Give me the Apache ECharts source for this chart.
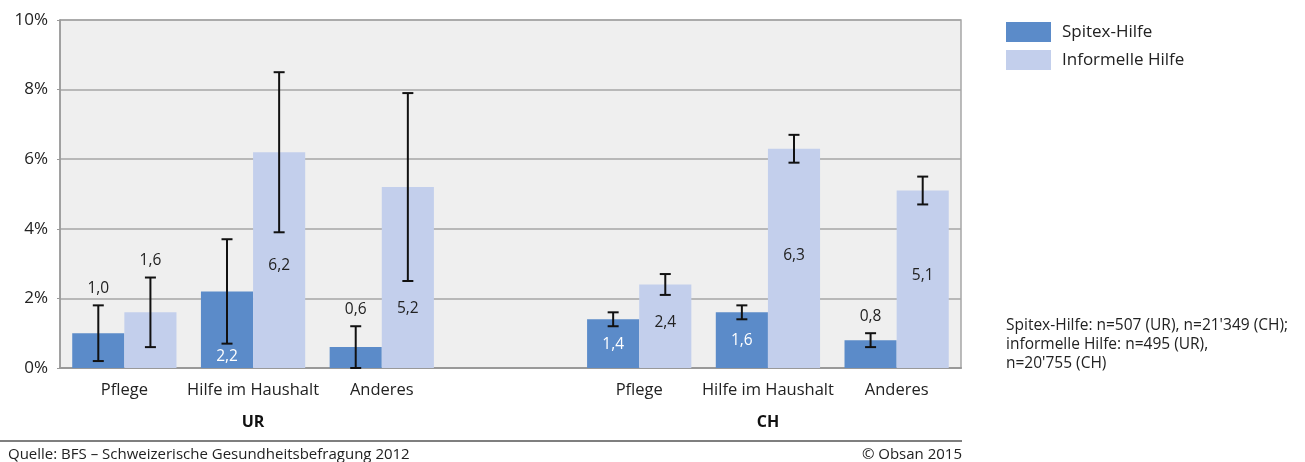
<!DOCTYPE html>
<html>
<head>
<meta charset="utf-8">
<script src="https://cdn.jsdelivr.net/npm/echarts@6/dist/echarts.min.js"></script>
<style>
html,body{margin:0;padding:0;background:#fff;}
#chart{width:1305px;height:462px;}
</style>
</head>
<body>
<div id="chart"></div>
<script>
// ---- data ----
const categories = ['Pflege', 'Hilfe im Haushalt', 'Anderes', '', 'Pflege', 'Hilfe im Haushalt', 'Anderes'];
const groupLabels = ['', 'UR', '', '', '', 'CH', ''];
const seriesNames = ['Spitex-Hilfe', 'Informelle Hilfe'];
const spitex = [1.0, 2.2, 0.6, null, 1.4, 1.6, 0.8];
const spitexLow = [0.2, 0.7, 0.0, null, 1.2, 1.4, 0.6];
const spitexHigh = [1.8, 3.7, 1.2, null, 1.6, 1.8, 1.0];
const informelle = [1.6, 6.2, 5.2, null, 2.4, 6.3, 5.1];
const informelleLow = [0.6, 3.9, 2.5, null, 2.1, 5.9, 4.7];
const informelleHigh = [2.6, 8.5, 7.9, null, 2.7, 6.7, 5.5];
const yTicks = [0, 2, 4, 6, 8, 10];
const noteLines = ["Spitex-Hilfe: n=507 (UR), n=21'349 (CH);", "informelle Hilfe: n=495 (UR),", "n=20'755 (CH)"];
const sourceText = 'Quelle: BFS – Schweizerische Gesundheitsbefragung 2012';
const copyrightText = '© Obsan 2015';

// ---- style ----
const FONT = 'Open Sans';
const C_SPITEX = '#5b8bc9';
const C_INF = '#c3cfec';
const CAT_GAP = 0.19;
const fmt = v => v.toFixed(1).replace('.', ',');

// label placement per bar: 'above' (above error bar), or inside with offset
const spitexLabel = [{above: true}, {white: true, dy: 27}, {above: true}, null, {white: true, dy: 1}, {white: true, dy: 0}, {above: true}];
const infLabel = [{above: true}, {dy: 5}, {dy: 31}, null, {dy: -4}, {dy: -3}, {dy: -4}];

function barData(vals, cfg) {
  return vals.map((v, i) => {
    if (v == null) return null;
    const c = cfg[i];
    if (c.above) return {value: v, label: {show: false}};
    return {
      value: v,
      label: {
        show: true, position: 'inside', offset: [0, c.dy || 0],
        color: c.white ? '#ffffff' : '#222222',
        fontFamily: FONT, fontSize: 15.5,
        formatter: fmt(v)
      }
    };
  });
}

function errData(lo, hi, vals, cfg, s) {
  const out = [];
  lo.forEach((l, i) => {
    if (l == null) return;
    out.push([i, l, hi[i], s, cfg[i].above ? 1 : 0, vals[i]]);
  });
  return out;
}

function renderErr(params, api) {
  const idx = api.value(0);
  const lo = api.value(1), hi = api.value(2), s = api.value(3);
  const above = api.value(4), v = api.value(5);
  const cw = api.size([1, 0])[0];
  const bw = cw * (1 - CAT_GAP) / 2;
  const dx = s === 0 ? -bw / 2 : bw / 2;
  const pLo = api.coord([idx, lo]);
  const pHi = api.coord([idx, hi]);
  const x = pLo[0] + dx;
  const cap = 5.5;
  const st = {stroke: '#111', lineWidth: 2};
  const children = [
    {type: 'line', shape: {x1: x, y1: pLo[1], x2: x, y2: pHi[1]}, style: st},
    {type: 'line', shape: {x1: x - cap, y1: pLo[1], x2: x + cap, y2: pLo[1]}, style: st},
    {type: 'line', shape: {x1: x - cap, y1: pHi[1], x2: x + cap, y2: pHi[1]}, style: st}
  ];
  if (above) {
    children.push({type: 'text', x: x, y: pHi[1] - 17,
      style: {text: fmt(v), fill: '#222', font: '15.5px ' + FONT, align: 'center', verticalAlign: 'middle'}});
  }
  return {type: 'group', children};
}

const chart = echarts.init(document.getElementById('chart'), null, {renderer: 'canvas'});
chart.setOption({
  animation: false,
  backgroundColor: '#ffffff',
  textStyle: {fontFamily: FONT},
  grid: {left: 60, right: 344, top: 20, bottom: 94, show: true, backgroundColor: '#efefef', borderColor: '#a6a6a6', borderWidth: 1.5},
  legend: {
    data: seriesNames, orient: 'vertical', left: 1006, top: 22, padding: 0,
    itemWidth: 45, itemHeight: 20, itemGap: 8, icon: 'rect',
    textStyle: {fontFamily: FONT, fontSize: 17, color: '#222', padding: [0, 0, 0, 6]}
  },
  xAxis: [{
    type: 'category', data: categories, gridIndex: 0,
    axisLine: {show: true, lineStyle: {color: '#999', width: 2}},
    axisTick: {show: false},
    axisLabel: {fontFamily: FONT, fontSize: 16.5, color: '#222', margin: 14, interval: 0}
  }, {
    type: 'category', data: groupLabels, gridIndex: 0, position: 'bottom', offset: 33,
    axisLine: {show: false}, axisTick: {show: false},
    axisLabel: {fontFamily: FONT, fontSize: 16, fontWeight: 'bold', color: '#111', margin: 13, interval: 0}
  }],
  yAxis: {
    type: 'value', min: yTicks[0], max: yTicks[yTicks.length - 1], interval: 2,
    axisLine: {show: true, lineStyle: {color: '#999', width: 1.5}},
    axisTick: {show: true, length: 3, lineStyle: {color: '#999'}},
    splitLine: {lineStyle: {color: '#a6a6a6', width: 1.5}},
    axisLabel: {fontFamily: FONT, fontSize: 17, color: '#222', margin: 12, formatter: '{value}%'}
  },
  series: [{
    name: seriesNames[0], type: 'bar', data: barData(spitex, spitexLabel),
    itemStyle: {color: C_SPITEX}, barGap: '0%', barCategoryGap: (CAT_GAP * 100) + '%'
  }, {
    name: seriesNames[1], type: 'bar', data: barData(informelle, infLabel),
    itemStyle: {color: C_INF}, barGap: '0%', barCategoryGap: (CAT_GAP * 100) + '%'
  }, {
    name: 'errS', type: 'custom', renderItem: renderErr, z: 5,
    data: errData(spitexLow, spitexHigh, spitex, spitexLabel, 0),
    encode: {x: 0, y: [1, 2]}
  }, {
    name: 'errI', type: 'custom', renderItem: renderErr, z: 5,
    data: errData(informelleLow, informelleHigh, informelle, infLabel, 1),
    encode: {x: 0, y: [1, 2]}
  }],
  graphic: [
    {type: 'line', shape: {x1: 0, y1: 441, x2: 962, y2: 441}, style: {stroke: '#555', lineWidth: 1.5}},
    {type: 'text', left: 8, top: 447, style: {text: sourceText, font: '15px ' + FONT, fill: '#222'}},
    {type: 'text', right: 343, top: 447, style: {text: copyrightText, font: '15px ' + FONT, fill: '#222'}},
    {type: 'text', left: 1006, top: 316, style: {text: noteLines.join('\n'), font: '15.5px ' + FONT, fill: '#222', lineHeight: 19}}
  ]
});
</script>
</body>
</html>
